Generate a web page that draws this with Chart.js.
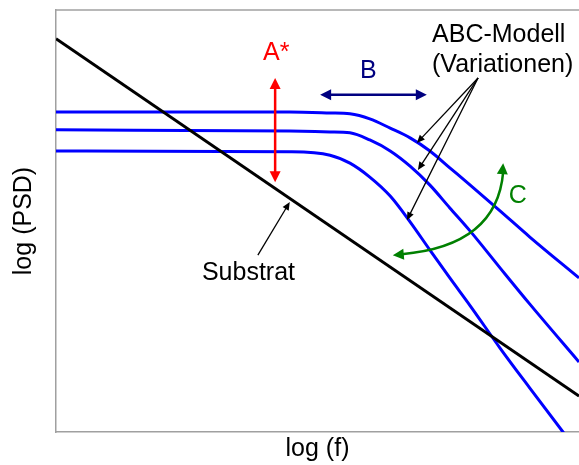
<!DOCTYPE html>
<html>
<head>
<meta charset="utf-8">
<title>PSD – ABC-Modell</title>
<script src="https://cdn.jsdelivr.net/npm/chart.js@4/dist/chart.umd.min.js"></script>
<style>
  html, body { margin: 0; padding: 0; background: #fff; }
  #psdChart { display: block; }
</style>
</head>
<body>
<canvas id="psdChart" width="579" height="465"></canvas>
<script>
/* sample positions along log(f) */
const logF = [0, 4.47, 5.24, 5.62, 6.0, 6.39, 6.77, 7.15, 7.53, 7.92, 8.49, 9.06, 10];

/* log(PSD) of the three ABC model variations */
const abcHigh = [7.58, 7.58, 7.56, 7.54, 7.42, 7.20, 6.97, 6.66, 6.26, 5.85, 5.24, 4.62, 3.65];
const abcMid  = [7.16, 7.13, 7.11, 7.09, 6.92, 6.66, 6.30, 5.85, 5.31, 4.76, 3.89, 3.03, 1.66];
const abcLow  = [6.66, 6.64, 6.56, 6.37, 6.04, 5.59, 4.98, 4.31, 3.65, 2.99, 1.99, 1.04, -0.50];

/* substrate: straight line, only both ends known */
const substrat = [9.32, null, null, null, null, null, null, null, null, null, null, null, 0.85];

const xTitle = 'log (f)';
const yTitle = 'log (PSD)';

const FONT = '25px "Liberation Sans", Arial, sans-serif';

/* annotation positions, in data units */
const notes = {
  aArrow: { x: 4.19, y1: 8.39, y2: 5.92 },
  bArrow: { y: 7.99, x1: 5.05, x2: 7.09 },
  abcFrom: { x: 8.07, y: 8.39 },
  abcTips: [{ x: 6.90, y: 6.85 }, { x: 6.92, y: 6.21 }, { x: 6.71, y: 5.02 }],
  subArrow: { x1: 3.86, y1: 4.19, x2: 4.47, y2: 5.45 },
  cArc: { x0: 6.44, y0: 4.19, cx: 8.43, cy: 4.41, x1: 8.55, y1: 6.37 },
  labels: [
    { text: 'A*', x: 4.21, y: 8.82, color: '#ff0000', align: 'center' },
    { text: 'B', x: 5.97, y: 8.39, color: '#000080', align: 'center' },
    { text: 'C', x: 8.83, y: 5.43, color: '#008000', align: 'center' },
    { text: 'ABC-Modell', x: 7.19, y: 9.24, color: '#000', align: 'left' },
    { text: '(Variationen)', x: 7.19, y: 8.53, color: '#000', align: 'left' },
    { text: 'Substrat', x: 2.79, y: 3.60, color: '#000', align: 'left' }
  ]
};

function toPoints(values) {
  return values.map(function (v, i) { return { x: logF[i], y: v }; });
}

function arrowHead(ctx, tx, ty, fx, fy, len, half) {
  const a = Math.atan2(ty - fy, tx - fx);
  ctx.beginPath();
  ctx.moveTo(tx, ty);
  ctx.lineTo(tx - len * Math.cos(a) + half * Math.sin(a), ty - len * Math.sin(a) - half * Math.cos(a));
  ctx.lineTo(tx - len * Math.cos(a) - half * Math.sin(a), ty - len * Math.sin(a) + half * Math.cos(a));
  ctx.closePath();
  ctx.fill();
}

/* straight arrow, head at (x2,y2), optional head at (x1,y1) */
function arrow(ctx, x1, y1, x2, y2, color, width, len, half, both) {
  const a = Math.atan2(y2 - y1, x2 - x1);
  const sx = both ? x1 + (len - 1) * Math.cos(a) : x1;
  const sy = both ? y1 + (len - 1) * Math.sin(a) : y1;
  ctx.strokeStyle = color;
  ctx.fillStyle = color;
  ctx.lineWidth = width;
  ctx.beginPath();
  ctx.moveTo(sx, sy);
  ctx.lineTo(x2 - (len - 1) * Math.cos(a), y2 - (len - 1) * Math.sin(a));
  ctx.stroke();
  arrowHead(ctx, x2, y2, x1, y1, len, half);
  if (both) arrowHead(ctx, x1, y1, x2, y2, len, half);
}

const annotationPlugin = {
  id: 'annotations',
  afterDatasetsDraw: function (chart) {
    const ctx = chart.ctx;
    const area = chart.chartArea;
    const px = function (v) { return chart.scales.x.getPixelForValue(v); };
    const py = function (v) { return chart.scales.y.getPixelForValue(v); };

    ctx.save();

    /* top frame line */
    ctx.strokeStyle = '#a0a0a0';
    ctx.lineWidth = 1.5;
    ctx.beginPath();
    ctx.moveTo(area.left, area.top);
    ctx.lineTo(area.right, area.top);
    ctx.stroke();

    /* A* */
    const A = notes.aArrow;
    arrow(ctx, px(A.x), py(A.y1), px(A.x), py(A.y2), '#ff0000', 2.5, 11, 5.5, true);

    /* B */
    const B = notes.bArrow;
    arrow(ctx, px(B.x1), py(B.y), px(B.x2), py(B.y), '#000080', 2.5, 11, 5.5, true);

    /* ABC-Modell pointers */
    notes.abcTips.forEach(function (t) {
      arrow(ctx, px(notes.abcFrom.x), py(notes.abcFrom.y), px(t.x), py(t.y), '#000', 1.3, 8, 3.5, false);
    });

    /* Substrat pointer */
    const S = notes.subArrow;
    arrow(ctx, px(S.x1), py(S.y1), px(S.x2), py(S.y2), '#000', 1.3, 8, 3.5, false);

    /* C : curved double arrow */
    const C = notes.cArc;
    const x0 = px(C.x0), y0 = py(C.y0), cx = px(C.cx), cy = py(C.cy), x1 = px(C.x1), y1 = py(C.y1);
    ctx.strokeStyle = '#008000';
    ctx.fillStyle = '#008000';
    ctx.lineWidth = 2.5;
    ctx.beginPath();
    ctx.moveTo(x0 + 9, y0 - 1);
    ctx.quadraticCurveTo(cx, cy, x1, y1 + 9);
    ctx.stroke();
    arrowHead(ctx, x0, y0, cx, cy, 11, 5.5);
    arrowHead(ctx, x1, y1, cx, cy, 11, 5.5);

    /* labels */
    ctx.font = FONT;
    ctx.textBaseline = 'alphabetic';
    notes.labels.forEach(function (l) {
      ctx.fillStyle = l.color;
      ctx.textAlign = l.align;
      ctx.fillText(l.text, px(l.x), py(l.y));
    });

    ctx.restore();
  }
};

const app = {
  createChart: function () {
    const ctx = document.getElementById('psdChart').getContext('2d');
    const line = { pointRadius: 0, borderWidth: 3, fill: false };

    return new Chart(ctx, {
      type: 'line',
      data: {
        datasets: [
          Object.assign({ label: 'Substrat', data: toPoints(substrat), borderColor: '#000000', spanGaps: true, tension: 0 }, line),
          Object.assign({ label: 'ABC hoch', data: toPoints(abcHigh), borderColor: '#0000ff', cubicInterpolationMode: 'monotone' }, line),
          Object.assign({ label: 'ABC mittel', data: toPoints(abcMid), borderColor: '#0000ff', cubicInterpolationMode: 'monotone' }, line),
          Object.assign({ label: 'ABC tief', data: toPoints(abcLow), borderColor: '#0000ff', cubicInterpolationMode: 'monotone' }, line)
        ]
      },
      options: {
        responsive: false,
        animation: false,
        devicePixelRatio: 1,
        layout: { padding: { left: 9, top: 10, right: 0, bottom: 0 } },
        plugins: { legend: { display: false }, tooltip: { enabled: false } },
        scales: {
          x: {
            type: 'linear', min: 0, max: 10,
            grid: { display: false, drawTicks: false },
            ticks: { display: false },
            border: { display: true, color: '#a0a0a0', width: 1.5 },
            title: { display: true, text: xTitle, color: '#000', font: { size: 25 }, padding: { top: 2, bottom: 1 } }
          },
          y: {
            type: 'linear', min: 0, max: 10,
            grid: { display: false, drawTicks: false },
            ticks: { display: false },
            border: { display: true, color: '#a0a0a0', width: 1.5 },
            title: { display: true, text: yTitle, color: '#000', font: { size: 25 }, padding: { top: 0, bottom: 17 } }
          }
        }
      },
      plugins: [annotationPlugin]
    });
  },

  init: function () {
    Chart.defaults.font.family = '"Liberation Sans", Arial, sans-serif';
    this.createChart();
  }
};

app.init();
</script>
</body>
</html>
